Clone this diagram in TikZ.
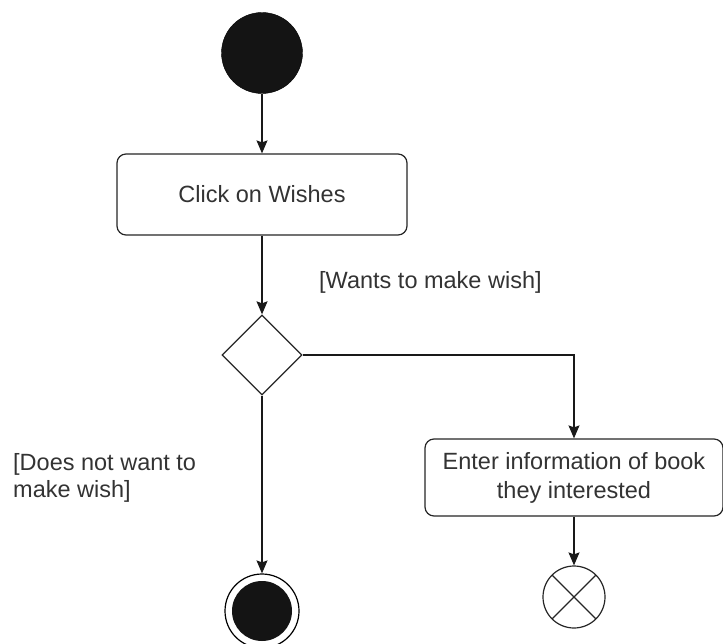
\documentclass[tikz,border=0pt]{standalone}
\usepackage{fontspec}
\setmainfont{Liberation Sans}
\usetikzlibrary{shapes.geometric,arrows.meta}

\begin{document}
\begin{tikzpicture}[x=1pt, y=-1pt,
    >={Stealth[length=13pt,width=11pt,inset=2pt]},
    startnode/.style={circle, fill=black!92, draw=black, inner sep=0pt,
                      minimum size=81pt},
    actnode/.style={draw=black!85, fill=white, rounded corners=9pt,
                    line width=1.2pt, align=center, text=black!80,
                    font=\fontsize{23.5}{29}\selectfont},
    decnode/.style={diamond, draw=black!85, fill=white, line width=1.3pt,
                    inner sep=0pt, minimum width=80pt, minimum height=80pt},
    endnode/.style={circle, draw=black, line width=1.2pt, inner sep=0pt,
                    minimum size=74pt,
                    path picture={\fill[black!92] (path picture bounding box.center)
                                  circle (30pt);}},
    flowendnode/.style={circle, draw=black!85, line width=1.2pt, inner sep=0pt,
                        minimum size=62pt,
                        path picture={\draw[black!85, line width=1.2pt]
                          (path picture bounding box.center) +(45:31pt) -- +(225:31pt)
                          (path picture bounding box.center) +(135:31pt) -- +(-45:31pt);}},
    guard/.style={text=black!80, font=\fontsize{23.5}{27}\selectfont, align=left,
                  inner sep=0pt},
    flow/.style={->, draw=black!90, line width=1.3pt}
]
\useasboundingbox (0,0) rectangle (723,644);

\node[startnode]   (start)   at (262, 53)    {};
\node[actnode, minimum width=290pt, minimum height=81pt]
                   (click)   at (262, 194.5) {Click on Wishes};
\node[decnode]     (dec)     at (262, 355)   {};
\node[actnode, minimum width=298pt, minimum height=77pt]
                   (enter)   at (574, 477.5) {Enter information of book\\they interested};
\node[endnode]     (final)   at (262, 611)   {};
\node[flowendnode] (flowend) at (574, 597)   {};

\node[guard, anchor=west]       (wants) at (319, 282) {[Wants to make wish]};
\node[guard, anchor=north west] (nowant) at (13, 453)  {[Does not want to\\make wish]};

\draw[flow] (start) -- (click);
\draw[flow] (click) -- (dec);
\draw[flow] (dec.east) -| (enter.north);
\draw[flow] (dec) -- (final);
\draw[flow] (enter) -- (flowend);

\end{tikzpicture}
\end{document}
